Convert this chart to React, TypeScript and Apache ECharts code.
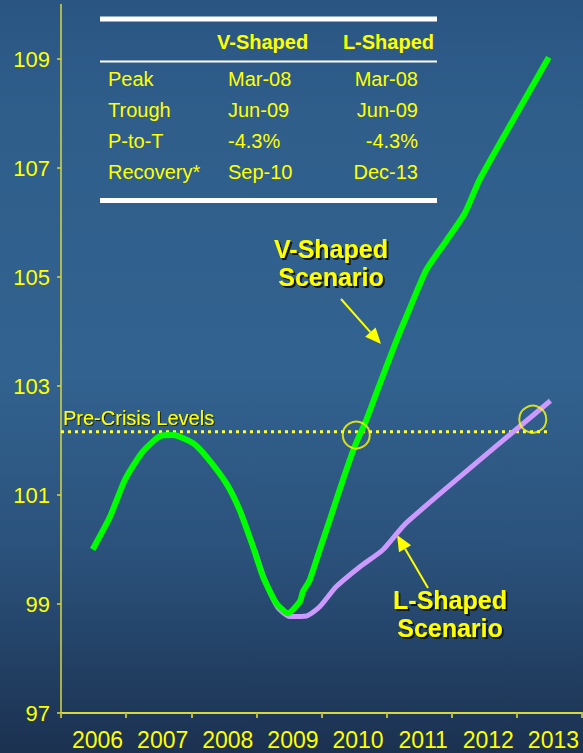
import React, { useEffect, useRef } from "react";
import * as echarts from "echarts";

// Axis categories and tick labels
const years = ["2006", "2007", "2008", "2009", "2010", "2011", "2012", "2013"];
const yTicks = [97, 99, 101, 103, 105, 107, 109];

// V-shaped scenario (time in fractional years, index level)
const vTime = [
  2006.486, 2006.752, 2006.982, 2007.238, 2007.518, 2007.722, 2008.029, 2008.235,
  2008.541, 2008.745, 2008.949, 2009.103, 2009.308, 2009.486, 2009.666, 2009.716,
  2009.819, 2009.972, 2010.126, 2010.33, 2010.509, 2010.689, 2010.842, 2010.995,
  2011.173, 2011.302, 2011.609, 2011.89, 2012.196, 2012.426, 2012.856, 2013.489,
];
const vValues = [
  100.0, 100.6, 101.28, 101.77, 102.08, 102.1, 101.95, 101.7,
  101.21, 100.72, 100.05, 99.5, 99.01, 98.83, 99.04, 99.23,
  99.44, 99.99, 100.54, 101.28, 101.89, 102.38, 102.87, 103.35,
  103.9, 104.27, 105.13, 105.62, 106.16, 106.78, 107.7, 109.03,
];

// L-shaped scenario
const lTime = [
  2008.975, 2009.129, 2009.328, 2009.512, 2009.768, 2009.972, 2010.228, 2010.586,
  2010.939, 2011.302, 2013.515,
];
const lValues = [
  99.99, 99.44, 98.94, 98.77, 98.78, 98.95, 99.32, 99.68,
  99.99, 100.49, 102.73,
];

// Pre-crisis reference level and where each scenario regains it
const preCrisisLevel = 102.16;
const preCrisisSpan = [2006.0, 2013.48];
const recoveryTime = [2010.534, 2013.244];
const recoveryValue = [102.1, 102.39];

// Summary table
const tableHeader = ["V-Shaped", "L-Shaped"];
const tableRows = ["Peak", "Trough", "P-to-T", "Recovery*"];
const vShapedStats = ["Mar-08", "Jun-09", "-4.3%", "Sep-10"];
const lShapedStats = ["Mar-08", "Jun-09", "-4.3%", "Dec-13"];

const FONT = '"Liberation Sans", Arial, sans-serif';
const YELLOW = "#ffff00";
const AXIS = "#d8d83e";

function shadowText(text: string, x: number, y: number, size: number, bold: boolean, align: string, off = 2) {
  return {
    type: "text",
    x,
    y,
    silent: true,
    style: {
      text,
      fontSize: size,
      fontWeight: bold ? "bold" : "normal",
      fontFamily: FONT,
      align,
      verticalAlign: "middle",
      fill: YELLOW,
      textShadowColor: "#0c121a",
      textShadowBlur: 1,
      textShadowOffsetX: off,
      textShadowOffsetY: off,
    },
  };
}

function arrow(x1: number, y1: number, x2: number, y2: number) {
  const dx = x2 - x1;
  const dy = y2 - y1;
  const len = Math.hypot(dx, dy);
  const ux = dx / len;
  const uy = dy / len;
  const headLen = 16;
  const halfW = 7;
  const bx = x2 - ux * headLen;
  const by = y2 - uy * headLen;
  return [
    {
      type: "line",
      shape: { x1, y1, x2: bx, y2: by },
      style: { stroke: YELLOW, lineWidth: 2 },
      silent: true,
    },
    {
      type: "polygon",
      shape: {
        points: [
          [x2, y2],
          [bx - uy * halfW, by + ux * halfW],
          [bx + uy * halfW, by - ux * halfW],
        ],
      },
      style: { fill: YELLOW },
      silent: true,
    },
  ];
}

function tableGraphics() {
  const els: any[] = [];
  els.push({ type: "rect", shape: { x: 100, y: 16.5, width: 337, height: 5 }, style: { fill: "#ffffff" }, silent: true });
  els.push({ type: "rect", shape: { x: 100, y: 60.5, width: 337, height: 2 }, style: { fill: "#ffffff" }, silent: true });
  els.push({ type: "rect", shape: { x: 100, y: 198, width: 337, height: 5 }, style: { fill: "#ffffff" }, silent: true });
  const head = { fontSize: 20, fontWeight: "bold", fontFamily: FONT, fill: YELLOW, verticalAlign: "middle" };
  els.push({ type: "text", x: 217, y: 42, style: { ...head, text: tableHeader[0], align: "left" }, silent: true });
  els.push({ type: "text", x: 434, y: 42, style: { ...head, text: tableHeader[1], align: "right" }, silent: true });
  const rowY = [79, 110, 141, 172];
  const cell = { fontSize: 20, fontFamily: FONT, fill: YELLOW, verticalAlign: "middle" };
  tableRows.forEach((r, i) => {
    els.push({ type: "text", x: 108, y: rowY[i], style: { ...cell, text: r, align: "left" }, silent: true });
    els.push({ type: "text", x: 228, y: rowY[i], style: { ...cell, text: vShapedStats[i], align: "left" }, silent: true });
    els.push({ type: "text", x: 418, y: rowY[i], style: { ...cell, text: lShapedStats[i], align: "right" }, silent: true });
  });
  return els;
}

export default function App() {
  const ref = useRef<HTMLDivElement>(null);

  useEffect(() => {
    const chart = echarts.init(ref.current!, null, { renderer: "svg" });
    const option: any = {
      animation: false,
      backgroundColor: {
        type: "linear",
        x: 0,
        y: 0,
        x2: 0,
        y2: 1,
        colorStops: [
          { offset: 0, color: "#2a5583" },
          { offset: 0.15, color: "#2f5e8b" },
          { offset: 0.5, color: "#32628f" },
          { offset: 0.75, color: "#2a5079" },
          { offset: 1, color: "#1b3150" },
        ],
      },
      grid: { left: 61, right: 1, top: 4.5, bottom: 40, containLabel: false },
      xAxis: [
        {
          type: "category",
          data: years,
          boundaryGap: true,
          position: "bottom",
          axisLine: { show: true, lineStyle: { color: AXIS, width: 2 } },
          axisTick: { show: true, interval: 0, length: 5, alignWithLabel: false, lineStyle: { color: "#b8b83c", width: 2 } },
          axisLabel: {
            interval: 0,
            hideOverlap: false,
            color: YELLOW,
            fontSize: 23,
            fontFamily: FONT,
            margin: 15,
            padding: [0, 0, 0, 8],
          },
          splitLine: { show: false },
        },
        {
          type: "value",
          min: 2006,
          max: 2014,
          show: false,
          position: "bottom",
        },
      ],
      yAxis: {
        type: "value",
        min: 97,
        max: 110,
        axisLine: { show: true, lineStyle: { color: AXIS, width: 1.5 } },
        axisTick: { show: true, length: 4, customValues: yTicks, lineStyle: { color: AXIS, width: 1.5 } },
        axisLabel: { color: YELLOW, fontSize: 22, fontFamily: FONT, margin: 11, customValues: yTicks },
        splitLine: { show: false },
      },
      series: [
        {
          name: "Pre-Crisis Levels",
          type: "line",
          xAxisIndex: 1,
          data: preCrisisSpan.map((t) => [t, preCrisisLevel]),
          symbol: "none",
          lineStyle: { color: "#ffff33", width: 3, type: [3, 4] },
          z: 3,
        },
        {
          name: "L-Shaped",
          type: "line",
          xAxisIndex: 1,
          data: lTime.map((t, i) => [t, lValues[i]]),
          symbol: "none",
          smooth: 0.2,
          lineStyle: { color: "#cc99ff", width: 5 },
          z: 4,
        },
        {
          name: "V-Shaped",
          type: "line",
          xAxisIndex: 1,
          data: vTime.map((t, i) => [t, vValues[i]]),
          symbol: "none",
          smooth: 0.2,
          lineStyle: { color: "#00ff00", width: 6 },
          z: 5,
        },
        {
          name: "Recovery",
          type: "scatter",
          xAxisIndex: 1,
          data: recoveryTime.map((t, i) => [t, recoveryValue[i]]),
          symbol: "circle",
          symbolSize: 27,
          itemStyle: { color: "rgba(0,0,0,0)", borderColor: YELLOW, borderWidth: 2 },
          z: 6,
        },
      ],
      graphic: [
        ...tableGraphics(),
        shadowText("Pre-Crisis Levels", 63, 418, 20, false, "left", 1),
        shadowText("V-Shaped", 331, 249, 25, true, "center"),
        shadowText("Scenario", 331, 277, 25, true, "center"),
        shadowText("L-Shaped", 450, 600, 25, true, "center"),
        shadowText("Scenario", 450, 628, 25, true, "center"),
        ...arrow(341, 299, 381, 344),
        ...arrow(428, 588, 397, 535),
      ],
    };
    chart.setOption(option);
    return () => chart.dispose();
  }, []);

  return (
    <div
      ref={ref}
      style={{ position: "fixed", left: 0, top: 0, width: 583, height: 753 }}
    />
  );
}
